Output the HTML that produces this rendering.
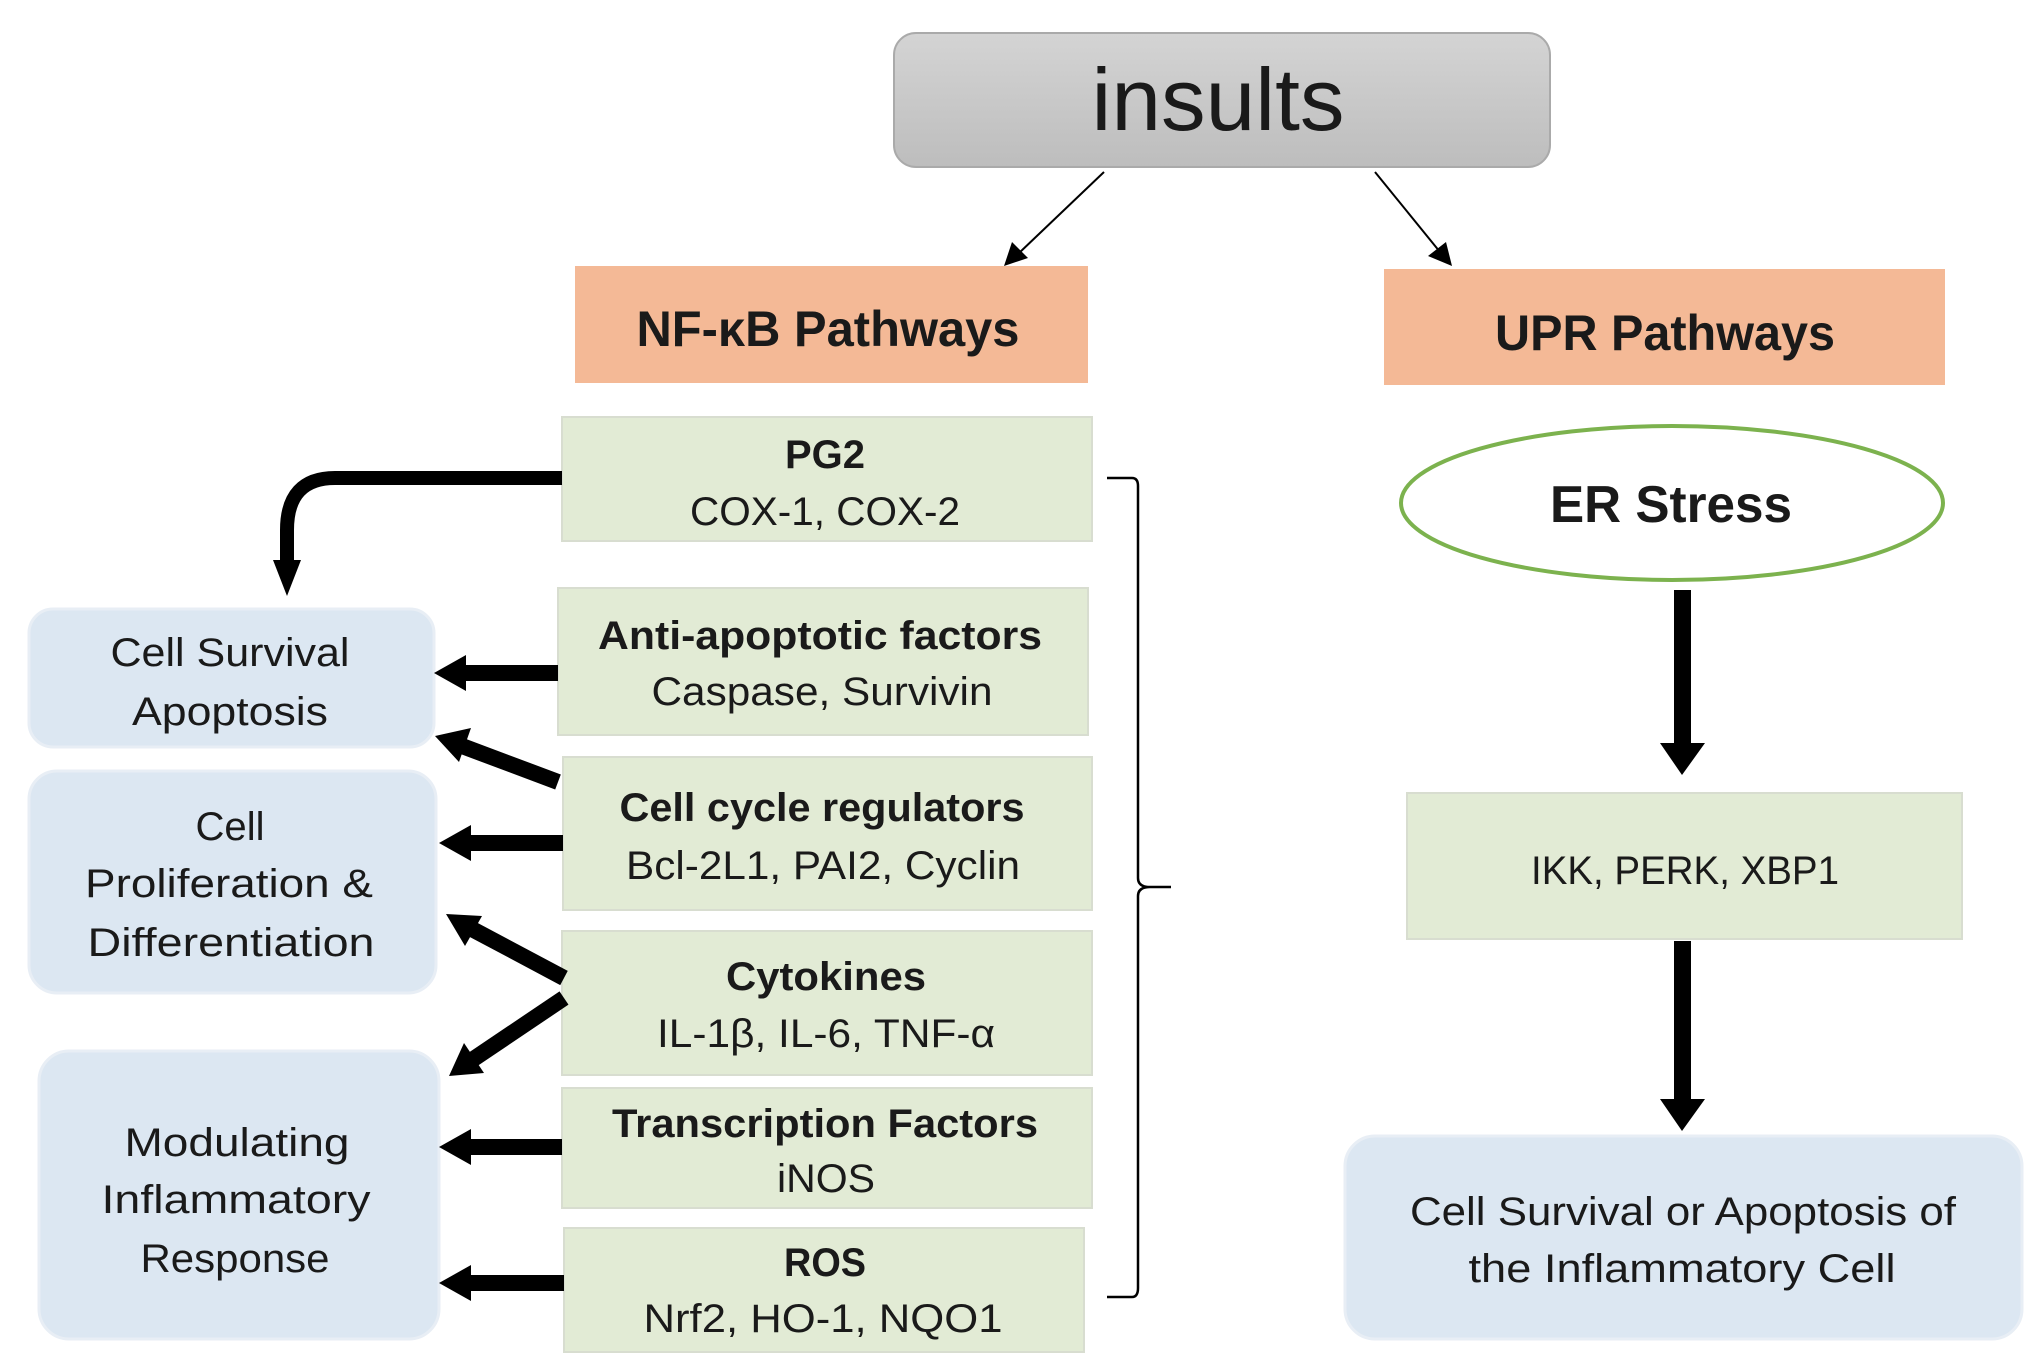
<!DOCTYPE html>
<html><head><meta charset="utf-8"><style>
html,body{margin:0;padding:0;background:#fff}
svg{display:block}
text{font-family:"Liberation Sans",sans-serif;fill:#1a1a1a}
.b{font-weight:bold}
</style></head><body>
<svg width="2037" height="1365" viewBox="0 0 2037 1365" xmlns="http://www.w3.org/2000/svg">
<defs>
<linearGradient id="g" x1="0" y1="0" x2="0" y2="1"><stop offset="0" stop-color="#d4d4d4"/><stop offset="1" stop-color="#bdbdbd"/></linearGradient>
<marker id="ah" markerWidth="10" markerHeight="10" refX="9" refY="5" orient="auto" markerUnits="userSpaceOnUse"><path d="M0,0 L10,5 L0,10z" fill="#000"/></marker>
</defs>
<!-- insults -->
<rect x="894" y="33" width="656" height="134" rx="22" fill="url(#g)" stroke="#aaa" stroke-width="2"/>
<text x="1218" y="130" font-size="88" text-anchor="middle" textLength="253" lengthAdjust="spacingAndGlyphs">insults</text>
<!-- thin arrows -->
<line x1="1104" y1="172" x2="1018" y2="254" stroke="#000" stroke-width="2"/>
<path d="M1004,266 L1012,242 L1028,258z" fill="#000"/>
<line x1="1375" y1="172" x2="1440" y2="252" stroke="#000" stroke-width="2"/>
<path d="M1452,266 L1428,256 L1446,242z" fill="#000"/>
<!-- pathway headers -->
<rect x="575" y="266" width="513" height="117" fill="#f4b996"/>
<text class="b" x="828" y="346" font-size="50" text-anchor="middle" textLength="383" lengthAdjust="spacingAndGlyphs">NF-κB Pathways</text>
<rect x="1384" y="269" width="561" height="116" fill="#f4b996"/>
<text class="b" x="1665" y="350" font-size="50" text-anchor="middle" textLength="340" lengthAdjust="spacingAndGlyphs">UPR Pathways</text>
<!-- green boxes -->
<g fill="#e2ebd5" stroke="#d8ddd0" stroke-width="2">
<rect x="562" y="417" width="530" height="124"/>
<rect x="558" y="588" width="530" height="147"/>
<rect x="563" y="757" width="529" height="153"/>
<rect x="562" y="931" width="530" height="144"/>
<rect x="562" y="1088" width="530" height="120"/>
<rect x="564" y="1228" width="520" height="124"/>
<rect x="1407" y="793" width="555" height="146"/>
</g>
<g font-size="40" text-anchor="middle">
<text class="b" x="825" y="468" textLength="80" lengthAdjust="spacingAndGlyphs">PG2</text>
<text x="825" y="525" textLength="270" lengthAdjust="spacingAndGlyphs">COX-1, COX-2</text>
<text class="b" x="820" y="649" textLength="444" lengthAdjust="spacingAndGlyphs">Anti-apoptotic factors</text>
<text x="822" y="705" textLength="341" lengthAdjust="spacingAndGlyphs">Caspase, Survivin</text>
<text class="b" x="822" y="821" textLength="405" lengthAdjust="spacingAndGlyphs">Cell cycle regulators</text>
<text x="823" y="879" textLength="394" lengthAdjust="spacingAndGlyphs">Bcl-2L1, PAI2, Cyclin</text>
<text class="b" x="826" y="990" textLength="200" lengthAdjust="spacingAndGlyphs">Cytokines</text>
<text x="826" y="1047" textLength="338" lengthAdjust="spacingAndGlyphs">IL-1β, IL-6, TNF-α</text>
<text class="b" x="825" y="1137" textLength="426" lengthAdjust="spacingAndGlyphs">Transcription Factors</text>
<text x="826" y="1192" textLength="98" lengthAdjust="spacingAndGlyphs">iNOS</text>
<text class="b" x="825" y="1276" textLength="82" lengthAdjust="spacingAndGlyphs">ROS</text>
<text x="823" y="1332" textLength="359" lengthAdjust="spacingAndGlyphs">Nrf2, HO-1, NQO1</text>
<text x="1685" y="884" textLength="308" lengthAdjust="spacingAndGlyphs">IKK, PERK, XBP1</text>
</g>
<!-- blue boxes -->
<g fill="#dce7f2" stroke="#e8eef5" stroke-width="3">
<rect x="29" y="609" width="405" height="138" rx="24"/>
<rect x="29" y="771" width="407" height="222" rx="28"/>
<rect x="39" y="1051" width="400" height="288" rx="30"/>
<rect x="1345" y="1136" width="677" height="203" rx="30"/>
</g>
<g font-size="40" text-anchor="middle">
<text x="230" y="666" textLength="239" lengthAdjust="spacingAndGlyphs">Cell Survival</text>
<text x="230" y="725" textLength="196" lengthAdjust="spacingAndGlyphs">Apoptosis</text>
<text x="230" y="840" textLength="69" lengthAdjust="spacingAndGlyphs">Cell</text>
<text x="229" y="897" textLength="288" lengthAdjust="spacingAndGlyphs">Proliferation &amp;</text>
<text x="231" y="956" textLength="287" lengthAdjust="spacingAndGlyphs">Differentiation</text>
<text x="237" y="1156" textLength="225" lengthAdjust="spacingAndGlyphs">Modulating</text>
<text x="236" y="1213" textLength="269" lengthAdjust="spacingAndGlyphs">Inflammatory</text>
<text x="235" y="1272" textLength="189" lengthAdjust="spacingAndGlyphs">Response</text>
<text x="1683" y="1225" textLength="546" lengthAdjust="spacingAndGlyphs">Cell Survival or Apoptosis of</text>
<text x="1682" y="1282" textLength="427" lengthAdjust="spacingAndGlyphs">the Inflammatory Cell</text>
</g>
<!-- ER stress -->
<ellipse cx="1672" cy="503" rx="271" ry="77" fill="#fff" stroke="#7cb24e" stroke-width="4"/>
<text x="1671" y="522" font-size="52" text-anchor="middle" style="font-weight:600" textLength="242" lengthAdjust="spacingAndGlyphs">ER Stress</text>
<!-- bracket -->
<path d="M1107,478 L1132,478 Q1138,478 1138,486 L1138,878 Q1138,887 1150,887 L1171,887 M1150,887 Q1138,887 1138,896 L1138,1288 Q1138,1297 1132,1297 L1107,1297" fill="none" stroke="#000" stroke-width="2.5"/>
<!-- vertical arrows right -->
<g fill="#000">
<rect x="1674" y="590" width="17" height="155"/>
<path d="M1660,743 L1705,743 L1682,775z"/>
<rect x="1674" y="941" width="17" height="160"/>
<path d="M1660,1099 L1705,1099 L1682,1131z"/>
</g>
<!-- PG2 curved arrow -->
<path d="M562,478 L335,478 Q287,478 287,530 L287,565" fill="none" stroke="#000" stroke-width="14"/>
<path d="M273,560 L301,560 L287,596z" fill="#000"/>
<!-- thick left arrows -->
<g stroke="#000" stroke-width="16" fill="none">
<line x1="558" y1="673" x2="460" y2="673"/>
<line x1="558" y1="782" x2="462" y2="746"/>
<line x1="563" y1="843" x2="465" y2="843"/>
<line x1="564" y1="978" x2="470" y2="928"/>
<line x1="564" y1="998" x2="472" y2="1060"/>
<line x1="562" y1="1147" x2="465" y2="1147"/>
<line x1="564" y1="1283" x2="465" y2="1283"/>
</g>
<g fill="#000">
<path d="M434,673 L466,655 L466,691z"/>
<path d="M435,736 L471,728 L459,762z"/>
<path d="M439,843 L471,825 L471,861z"/>
<path d="M446,914 L482,916 L465,946z"/>
<path d="M449,1076 L464,1043 L484,1073z"/>
<path d="M439,1147 L471,1129 L471,1165z"/>
<path d="M439,1283 L471,1265 L471,1301z"/>
</g>
</svg>
</body></html>
